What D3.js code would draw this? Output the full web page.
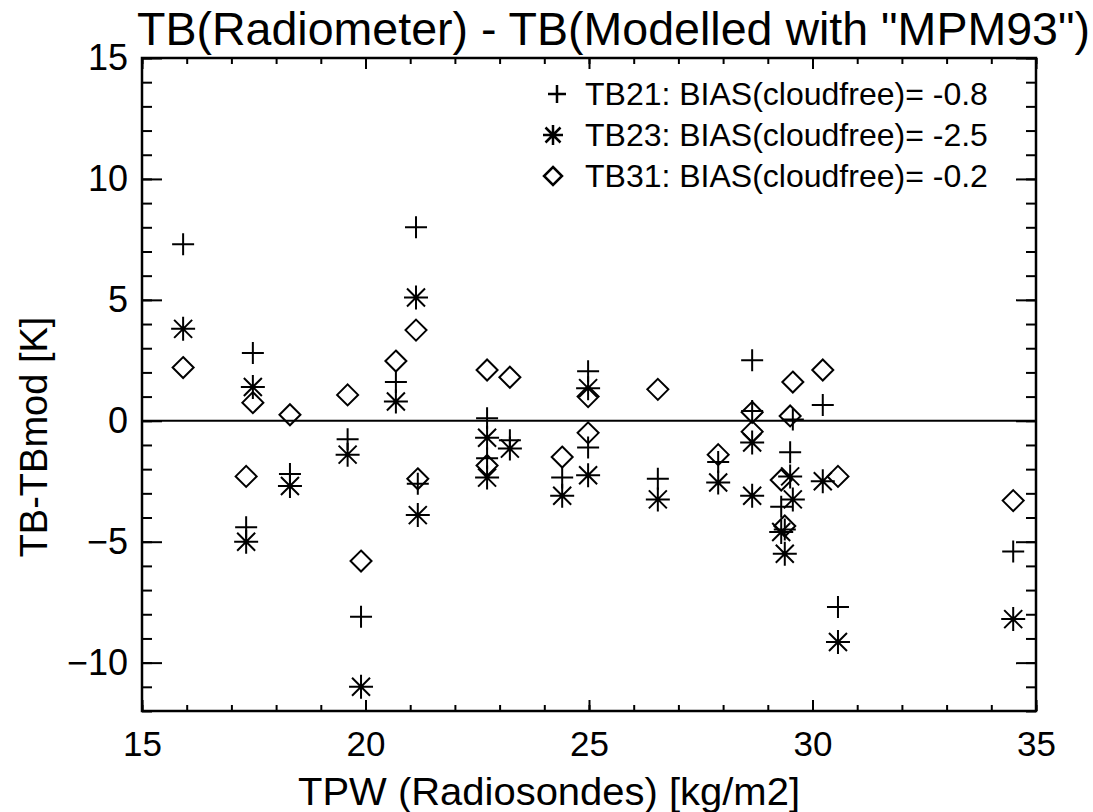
<!DOCTYPE html>
<html>
<head>
<meta charset="utf-8">
<script src="https://cdn.jsdelivr.net/npm/d3@7"></script>
<style>
  body { margin: 0; background: #fff; }
  text { font-family: "Liberation Sans", Arial, sans-serif; fill: #000; }
</style>
</head>
<body>
<svg id="chart" width="1093" height="812"></svg>
<script>
// total precipitable water from the radiosondes, one entry per sounding
const tpw  = [15.92, 17.48, 17.33, 18.31, 19.6, 19.9, 20.68, 21.13, 21.17, 22.72, 22.72, 23.23, 24.4,
              24.98, 24.98, 26.54, 27.89, 28.65, 28.65, 29.3, 29.38, 29.5, 29.56, 30.23, 30.57, 34.49];
// TB(radiometer) - TB(model) for the three channels
const tb21 = [7.3, 2.8, -4.4, -2.2, -0.76, -8.1, 1.6, 8.0, -2.6, 0.1, -1.55, -0.8, -2.35,
              2.05, -1.1, -2.4, -1.7, 2.5, 0.4, -3.55, -4.5, -1.3, 0.05, 0.65, -7.7, -5.4];
const tb23 = [3.8, 1.4, -5.0, -2.7, -1.4, -11.0, 0.8, 5.1, -3.9, -0.7, -2.35, -1.15, -3.1,
              1.35, -2.25, -3.25, -2.55, -0.9, -3.1, -4.6, -5.5, -2.3, -3.25, -2.5, -9.15, -8.2];
const tb31 = [2.2, 0.75, -2.3, 0.25, 1.07, -5.8, 2.47, 3.75, -2.4, 2.1, -1.85, 1.8, -1.5,
              1.0, -0.5, 1.3, -1.4, 0.35, -0.45, -2.45, -4.35, 0.2, 1.6, 2.1, -2.3, -3.3];

const xTicks = [15, 20, 25, 30, 35];
const yTicks = [-10, -5, 0, 5, 10, 15];
const legendLabels = ['TB21: BIAS(cloudfree)= -0.8', 'TB23: BIAS(cloudfree)= -2.5', 'TB31: BIAS(cloudfree)= -0.2'];

const svg = d3.select('#chart');
const plotLeft = 142, plotRight = 1036, plotTop = 58, plotBottom = 711;

const x = d3.scaleLinear().domain([15, 35]).range([plotLeft, plotRight]);
const y = d3.scaleLinear().domain([-12, 15]).range([plotBottom, plotTop]);

// symbol paths, IDL style
const plusPath = (r) => `M${-r},0H${r}M0,${-r}V${r}`;
const starPath = (r) => {
  const d = r * 0.75;
  return `M${-r},0H${r}M0,${-r}V${r}M${-d},${-d}L${d},${d}M${-d},${d}L${d},${-d}`;
};
const diamondPath = (r) => `M0,${-r}L${r},0L0,${r}L${-r},0Z`;

// frame
svg.append('rect')
  .attr('x', plotLeft).attr('y', plotTop)
  .attr('width', plotRight - plotLeft).attr('height', plotBottom - plotTop)
  .attr('fill', 'none').attr('stroke', '#000').attr('stroke-width', 2.5);

const styleAxis = (g) => {
  g.select('.domain').remove();
  g.selectAll('.tick line').attr('stroke', '#000').attr('stroke-width', 2);
};

// minor ticks
const xMinor = d3.range(15, 36, 1);
const yMinor = d3.range(-12, 16, 1);
svg.append('g').attr('transform', `translate(0,${plotBottom})`)
  .call(d3.axisBottom(x).tickValues(xMinor).tickSize(-6).tickFormat(''))
  .call(styleAxis);
svg.append('g').attr('transform', `translate(0,${plotTop})`)
  .call(d3.axisTop(x).tickValues(xMinor).tickSize(-6).tickFormat(''))
  .call(styleAxis);
svg.append('g').attr('transform', `translate(${plotLeft},0)`)
  .call(d3.axisLeft(y).tickValues(yMinor).tickSize(-10).tickFormat(''))
  .call(styleAxis);
svg.append('g').attr('transform', `translate(${plotRight},0)`)
  .call(d3.axisRight(y).tickValues(yMinor).tickSize(-10).tickFormat(''))
  .call(styleAxis);

// major ticks with labels
svg.append('g').attr('transform', `translate(0,${plotBottom})`)
  .call(d3.axisBottom(x).tickValues(xTicks).tickSize(-11).tickPadding(20).tickFormat(d3.format('d')))
  .call(styleAxis)
  .call(g => g.selectAll('text').attr('font-size', 35).attr('dy', '0.71em'));
svg.append('g').attr('transform', `translate(0,${plotTop})`)
  .call(d3.axisTop(x).tickValues(xTicks).tickSize(-11).tickFormat(''))
  .call(styleAxis);
svg.append('g').attr('transform', `translate(${plotLeft},0)`)
  .call(d3.axisLeft(y).tickValues(yTicks).tickSize(-20).tickPadding(14).tickFormat(d3.format('d')))
  .call(styleAxis)
  .call(g => g.selectAll('text').attr('font-size', 36));
svg.append('g').attr('transform', `translate(${plotRight},0)`)
  .call(d3.axisRight(y).tickValues(yTicks).tickSize(-20).tickFormat(''))
  .call(styleAxis);

// zero line
svg.append('line')
  .attr('x1', x(15)).attr('x2', x(35))
  .attr('y1', y(0)).attr('y2', y(0))
  .attr('stroke', '#000').attr('stroke-width', 2);

// points
const series = [
  { values: tb21, path: plusPath(11), legendPath: plusPath(9) },
  { values: tb23, path: starPath(12), legendPath: starPath(10) },
  { values: tb31, path: diamondPath(10.5), legendPath: diamondPath(9) }
];
series.forEach(s => {
  svg.append('g').selectAll('path')
    .data(tpw.map((t, i) => [t, s.values[i]]))
    .join('path')
    .attr('transform', d => `translate(${x(d[0])},${y(d[1])})`)
    .attr('d', s.path)
    .attr('fill', 'none')
    .attr('stroke', '#000')
    .attr('stroke-width', 2);
});

// legend
const legend = svg.append('g');
legendLabels.forEach((label, i) => {
  const base = 105 + i * 41;
  legend.append('path')
    .attr('transform', `translate(${i === 0 ? 557 : 553},${base - 11})`)
    .attr('d', series[i].legendPath)
    .attr('fill', 'none').attr('stroke', '#000').attr('stroke-width', 2.5);
  legend.append('text')
    .attr('x', 585).attr('y', base)
    .attr('font-size', 32)
    .text(label);
});

// titles
svg.append('text')
  .attr('x', 137).attr('y', 45)
  .attr('font-size', 46)
  .attr('textLength', 953).attr('lengthAdjust', 'spacingAndGlyphs')
  .text('TB(Radiometer) - TB(Modelled with "MPM93")');

svg.append('text')
  .attr('x', 549).attr('y', 805)
  .attr('text-anchor', 'middle')
  .attr('font-size', 38)
  .attr('textLength', 502).attr('lengthAdjust', 'spacingAndGlyphs')
  .text('TPW (Radiosondes) [kg/m2]');

svg.append('text')
  .attr('transform', `translate(47,437) rotate(-90)`)
  .attr('text-anchor', 'middle')
  .attr('font-size', 38)
  .text('TB-TBmod [K]');
</script>
</body>
</html>
